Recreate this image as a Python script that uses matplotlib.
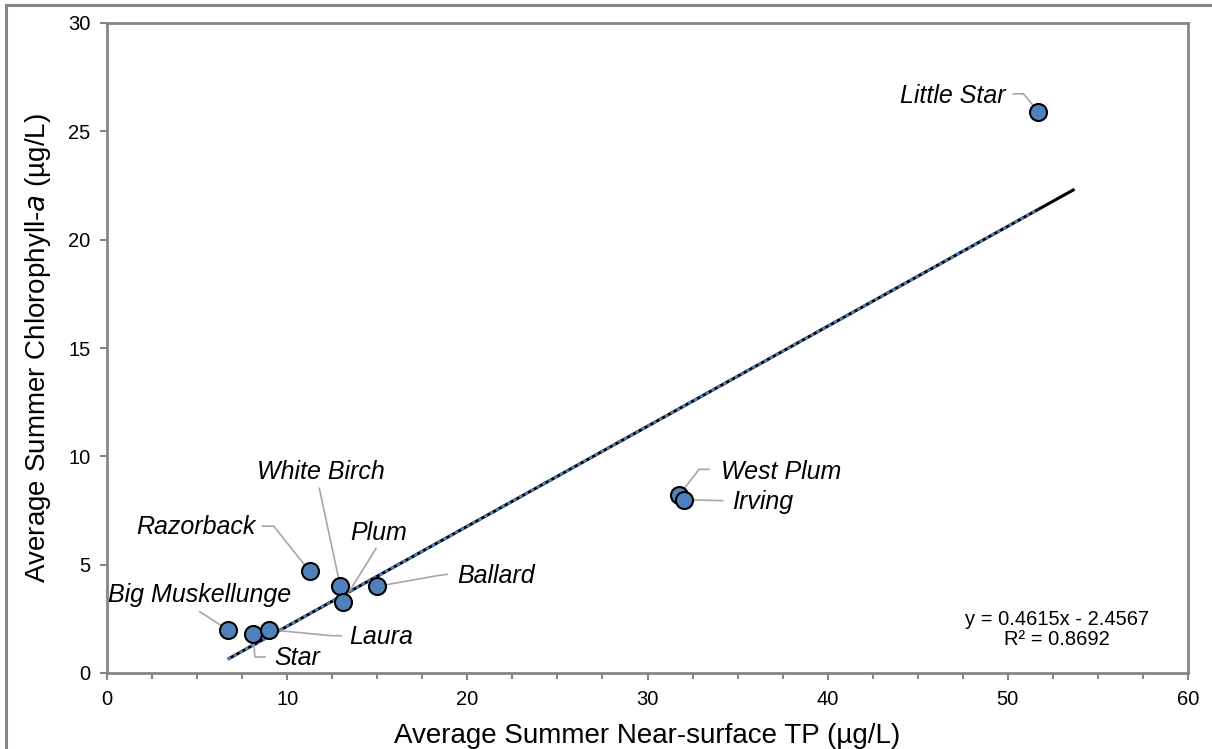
import numpy as np
import matplotlib
matplotlib.use("Agg")
import matplotlib.pyplot as plt
from matplotlib.patches import Rectangle
from matplotlib.ticker import MultipleLocator

plt.rcParams['font.family'] = ['Liberation Sans', 'DejaVu Sans']

# lake data
lakes = ["Little Star", "West Plum", "Irving", "Razorback", "White Birch", "Plum",
         "Ballard", "Big Muskellunge", "Star", "Laura"]
tp = [51.7, 31.75, 32.05, 11.25, 12.95, 13.1, 15.0, 6.7, 8.1, 9.0]
chla = [25.9, 8.2, 8.0, 4.7, 4.0, 3.3, 4.0, 2.0, 1.8, 2.0]

slope = 0.4615
intercept = -2.4567
r2 = 0.8692
forward = 2.0

# label layout: text offset (px), alignment, leader vertices (px offsets from point)
label_layout = {
    "Little Star": ((-33, 16), 'right', [(-25, 18), (-15, 18)]),
    "West Plum": ((42, 23), 'left', [(30, 26), (20, 26)]),
    "Irving": ((48, -2), 'left', [(38, -1)]),
    "Razorback": ((-54, 44), 'right', [(-47, 45), (-36, 45)]),
    "White Birch": ((-19, 114), 'center', [(-21, 98)]),
    "Plum": ((7, 69), 'left', [(33, 53)]),
    "Ballard": ((80, 10), 'left', [(70, 12), (62, 11)]),
    "Big Muskellunge": ((-28, 35), 'center', [(-28, 18)]),
    "Star": ((21, -24), 'left', [(12, -23), (2, -23)]),
    "Laura": ((80, -7), 'left', [(72, -6), (62, -6)]),
}

W, H = 1212, 749
fig = plt.figure(figsize=(W / 100, H / 100), dpi=100)
ax = fig.add_axes([107 / W, (H - 673) / H, (1188 - 107) / W, (673 - 23) / H])

grey = '#868686'
fig.patches.append(Rectangle((6 / W, -0.1), 1.2, (H - 5) / H + 0.1, transform=fig.transFigure,
                             fill=False, edgecolor=grey, lw=2.2, zorder=0))

ax.set_xlim(0, 60)
ax.set_ylim(0, 30)

# trendline: black with forward forecast, blue dashes over the data range
xs = np.array([min(tp), max(tp) + forward])
ax.plot(xs, slope * xs + intercept, color='black', lw=2.2, zorder=2, solid_capstyle='butt')
xb = np.array([min(tp), max(tp)])
ax.plot(xb, slope * xb + intercept, color='#4f81bd', lw=2.0, ls=(0, (1.3, 1.1)), zorder=3)

ax.scatter(tp, chla, s=150, color='#4f81bd', edgecolor='black', linewidth=1.5, zorder=5)

# labels and leader lines
to_data = ax.transData.inverted()
for name, x, y in zip(lakes, tp, chla):
    (tx, ty), ha, leader = label_layout[name]
    p = ax.transData.transform((x, y))
    verts = [p + np.array(v) for v in leader] + [p]
    verts = to_data.transform(np.array(verts))
    ax.plot(verts[:, 0], verts[:, 1], color='#a6a6a6', lw=1.2, zorder=4)
    ax.annotate(name, (x, y), xytext=(tx, ty), textcoords='offset pixels',
                ha=ha, va='center', fontsize=18, style='italic', zorder=6)

ax.text(0.879, 0.097, "y = %.4fx - %.4f\nR\u00b2 = %.4f" % (slope, -intercept, r2),
        transform=ax.transAxes, ha='center', va='top', fontsize=14.5, linespacing=1.05)

ax.xaxis.set_major_locator(MultipleLocator(10))
ax.xaxis.set_minor_locator(MultipleLocator(2.5))
ax.yaxis.set_major_locator(MultipleLocator(5))
for s in ax.spines.values():
    s.set_color(grey)
    s.set_linewidth(2)
ax.tick_params(which='both', direction='out', color=grey, width=1.5, top=False, right=False,
               labelsize=14.5, pad=7)
ax.tick_params(which='major', length=5)
ax.tick_params(which='minor', length=4)

ax.set_xlabel("Average Summer Near-surface TP (\u00b5g/L)", fontsize=20, labelpad=10)
ax.set_ylabel("Average Summer Chlorophyll-$\\it{a}$ (\u00b5g/L)", fontsize=20, labelpad=11)

fig.savefig("out.png", dpi=100)
